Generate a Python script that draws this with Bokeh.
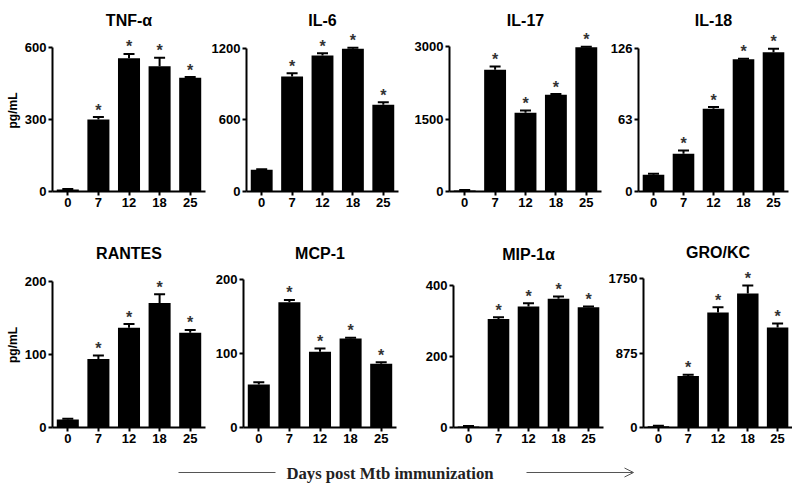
from bokeh.plotting import figure
from bokeh.layouts import row, column
from bokeh.models import (FactorRange, Range1d, FixedTicker, Whisker, TeeHead,
                          ColumnDataSource, Arrow, OpenHead)
from bokeh.embed import file_html
from bokeh.resources import INLINE
from bokeh.core.properties import value

# ---------------- data ----------------
days = ["0", "7", "12", "18", "25"]
stars = ["", "*", "*", "*", "*"]

tnf_vals = [8, 300, 555, 522, 474]
tnf_errs = [2, 10, 18, 35, 3]
tnf_ticks = [0, 300, 600]

il6_vals = [182, 963, 1139, 1195, 726]
il6_errs = [5, 27, 19, 8, 22]
il6_ticks = [0, 600, 1200]

il17_vals = [20, 2523, 1632, 2005, 2992]
il17_errs = [10, 69, 48, 15, 10]
il17_ticks = [0, 1500, 3000]

il18_vals = [14.7, 33.1, 72.7, 116.3, 122.5]
il18_errs = [1, 3, 1.5, 0.5, 3]
il18_ticks = [0, 63, 126]

rantes_vals = [11, 94, 137, 171, 130]
rantes_errs = [1, 5, 5, 12, 4]
rantes_ticks = [0, 100, 200]

mcp_vals = [58, 169, 102, 120, 86]
mcp_errs = [3, 3, 4.5, 1, 2]
mcp_ticks = [0, 100, 200]

mip_vals = [3, 306, 341, 363, 339]
mip_errs = [1, 5, 9, 6, 2]
mip_ticks = [0, 200, 400]

gro_vals = [15, 606, 1350, 1574, 1174]
gro_errs = [5, 14, 63, 94, 47]
gro_ticks = [0, 875, 1750]

y_label = "pg/mL"
x_caption = "Days post Mtb immunization"

FONT = "Liberation Sans"


def panel(title, vals, errs, ticks, width, height, bl, br, bt, bb, tick_px,
          ylabel=None, title_standoff=2):
    frame_h = height - bt - bb
    top = ticks[-1] * frame_h / tick_px
    src = ColumnDataSource(dict(day=days, val=vals,
                                upper=[v + e for v, e in zip(vals, errs)],
                                star=stars))
    p = figure(x_range=FactorRange(factors=days, range_padding=0),
               y_range=Range1d(0, top),
               width=width, height=height,
               min_border_left=bl, min_border_right=br,
               min_border_top=bt, min_border_bottom=bb,
               output_backend="svg", toolbar_location=None,
               background_fill_color="white", border_fill_color="white")
    p.outline_line_color = None
    p.xgrid.visible = False
    p.ygrid.visible = False

    p.vbar(x="day", top="val", width=0.72, source=src,
           fill_color="black", line_color=None)
    w = Whisker(base="day", lower="val", upper="upper", source=src,
                dimension="height", line_width=2, line_color="black",
                upper_head=TeeHead(size=11, line_width=2, line_color="black"),
                lower_head=None)
    p.add_layout(w)
    p.text(x="day", y="upper", text="star", source=src,
           text_align="center", text_baseline="alphabetic", y_offset=-7,
           text_font=value(FONT), text_font_size="16px", text_font_style="bold",
           text_color="#333333")

    p.title.text = title
    p.title.align = "center"
    p.title.text_font = FONT
    p.title.text_font_size = "16px"
    p.title.text_font_style = "bold"
    p.title.text_color = "black"
    p.title.standoff = title_standoff

    for ax in (p.xaxis[0], p.yaxis[0]):
        ax.axis_line_width = 2
        ax.axis_line_color = "black"
        ax.major_tick_line_width = 2
        ax.major_tick_line_color = "black"
        ax.major_tick_in = 0
        ax.major_tick_out = 4
        ax.minor_tick_line_color = None
        ax.major_label_text_font = FONT
        ax.major_label_text_font_size = "13px"
        ax.major_label_text_font_style = "bold"
        ax.major_label_text_color = "black"
    p.xaxis.major_label_standoff = 2
    p.yaxis.major_label_standoff = 2
    p.yaxis.ticker = FixedTicker(ticks=ticks)
    p.yaxis.bounds = (0, ticks[-1])
    if ylabel:
        p.yaxis.axis_label = ylabel
        p.yaxis.axis_label_text_font = FONT
        p.yaxis.axis_label_text_font_size = "12px"
        p.yaxis.axis_label_text_font_style = "bold"
        p.yaxis.axis_label_text_color = "black"
        p.yaxis.axis_label_standoff = 2
    return p


H1, T1, B1 = 225, 29, 34
p1 = panel("TNF-α", tnf_vals, tnf_errs, tnf_ticks, 208, H1, 52, 3, T1, B1, 144, y_label)
p2 = panel("IL-6", il6_vals, il6_errs, il6_ticks, 202, H1, 38, 12, T1, B1, 143.3)
p3 = panel("IL-17", il17_vals, il17_errs, il17_ticks, 197, H1, 39, 6, T1, B1, 144.7)
p4 = panel("IL-18", il18_vals, il18_errs, il18_ticks, 185, H1, 30, 4, T1, B1, 143.3)

H2, T2 = 225, 37
p5 = panel("RANTES", rantes_vals, rantes_errs, rantes_ticks, 210, H2, 52, 5, T2, 23, 145.6, y_label, 1)
p6 = panel("MCP-1", mcp_vals, mcp_errs, mcp_ticks, 208, H2, 33, 22, T2, 23, 148.3, None, 2)
p7 = panel("MIP-1α", mip_vals, mip_errs, mip_ticks, 187, H2, 35, 2, T2, 21, 143.6, None, 0)
p8 = panel("GRO/KC", gro_vals, gro_errs, gro_ticks, 187, H2, 35, 0, T2, 23, 149, None, 4)

# caption strip
CH = 39
cap = figure(width=792, height=CH, x_range=Range1d(0, 792), y_range=Range1d(0, CH),
             min_border=0, output_backend="svg", toolbar_location=None)
cap.axis.visible = False
cap.grid.visible = False
cap.outline_line_color = None
cap.text(x=[389.5], y=[16], text=[x_caption], text_align="center",
         text_baseline="middle", text_font=value("Liberation Serif"),
         text_font_size="16.7px", text_font_style="bold", text_color="#222222")
cap.segment(x0=[178], y0=[17], x1=[275], y1=[17], line_color="#555555", line_width=1)
cap.add_layout(Arrow(x_start=526, y_start=17, x_end=633, y_end=17,
                     line_color="#555555", line_width=1,
                     end=OpenHead(size=9, line_color="#555555", line_width=1)))

layout = column(row(p1, p2, p3, p4), row(p5, p6, p7, p8), cap)

open("out.html", "w").write(file_html(layout, INLINE))
